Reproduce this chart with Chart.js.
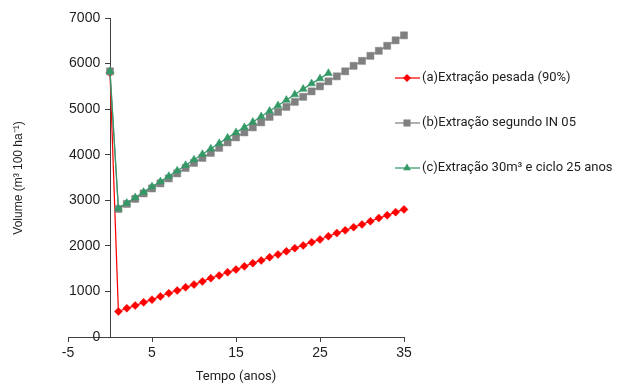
<!DOCTYPE html>
<html>
<head>
<meta charset="utf-8">
<script src="https://cdn.jsdelivr.net/npm/chart.js@4.4.0/dist/chart.umd.min.js"></script>
<style>
  html, body { margin: 0; padding: 0; background: #fff; }
</style>
</head>
<body>
<canvas id="grafico" width="625" height="385"></canvas>
<script>
// Tempo (anos)
const anos = [0, 1, 2, 3, 4, 5, 6, 7, 8, 9, 10, 11, 12, 13, 14, 15, 16, 17,
              18, 19, 20, 21, 22, 23, 24, 25, 26, 27, 28, 29, 30, 31, 32, 33, 34, 35];

// (a) Extração pesada (90%)
const pesada = [5800, 560, 630, 690, 760, 820, 890, 960, 1020, 1090, 1150, 1220, 1290, 1350,
                1420, 1480, 1550, 1620, 1680, 1750, 1810, 1880, 1950, 2010, 2080, 2140,
                2210, 2280, 2340, 2410, 2470, 2540, 2610, 2670, 2740, 2800];

// (b) Extração segundo IN 05
const segundoIN05 = [5830, 2810, 2920, 3030, 3150, 3260, 3370, 3480, 3590, 3710, 3820, 3930,
                     4040, 4150, 4270, 4380, 4490, 4600, 4710, 4830, 4940, 5050, 5160, 5270,
                     5390, 5500, 5610, 5720, 5830, 5950, 6060, 6170, 6280, 6390, 6510, 6620];

// (c) Extração 30m³ e ciclo 25 anos (só até 26 anos)
const ciclo25 = [5830, 2820, 2940, 3060, 3180, 3300, 3410, 3530, 3650, 3770, 3890, 4010, 4130,
                 4250, 4370, 4490, 4600, 4720, 4840, 4960, 5080, 5200, 5320, 5440, 5560, 5670, 5790];

const rotulos = ['(a)Extração pesada (90%)', '(b)Extração segundo IN 05', '(c)Extração 30m³ e ciclo 25 anos'];
const eixoX = { min: -5, max: 35, passo: 10, titulo: 'Tempo (anos)' };
const eixoY = { min: 0, max: 7000, passo: 1000, titulo: 'Volume (m³ 100 ha⁻¹)' };

const corTexto = '#1e1e1e';
const corEixo = '#404040';

function pontos(xs, ys) {
    return ys.map((v, i) => ({ x: xs[i], y: v }));
}

// desenha o marcador da legenda (igual ao do gráfico)
function marcador(ctx, estilo, r, x, y, cor) {
    ctx.save();
    ctx.fillStyle = cor;
    ctx.beginPath();
    if (estilo === 'rectRot') {
        ctx.moveTo(x, y - r); ctx.lineTo(x + r, y); ctx.lineTo(x, y + r); ctx.lineTo(x - r, y);
    } else if (estilo === 'rect') {
        const s = r * Math.SQRT1_2;
        ctx.rect(x - s, y - s, 2 * s, 2 * s);
    } else {
        const a = 2 * Math.PI / 3;
        ctx.moveTo(x, y - r);
        ctx.lineTo(x + Math.sin(a) * r, y - Math.cos(a) * r);
        ctx.lineTo(x + Math.sin(2 * a) * r, y - Math.cos(2 * a) * r);
    }
    ctx.closePath();
    ctx.fill();
    ctx.restore();
}

// legenda à direita + título do eixo Y
const legendaLateral = {
    id: 'legendaLateral',
    afterDraw(chart) {
        const ctx = chart.ctx;
        const ys = [78, 123, 168];
        chart.data.datasets.forEach((ds, i) => {
            const y = ys[i];
            ctx.save();
            ctx.strokeStyle = ds.borderColor;
            ctx.lineWidth = ds.borderWidth;
            ctx.beginPath();
            ctx.moveTo(395, y);
            ctx.lineTo(420, y);
            ctx.stroke();
            ctx.restore();
            marcador(ctx, ds.pointStyle, ds.pointRadius, 407, y, ds.pointBackgroundColor);
            ctx.save();
            ctx.fillStyle = corTexto;
            ctx.font = '13px Roboto';
            ctx.textBaseline = 'middle';
            ctx.fillText(rotulos[i], 422, y);
            ctx.restore();
        });

        ctx.save();
        ctx.translate(19, 178);
        ctx.rotate(-Math.PI / 2);
        ctx.fillStyle = corTexto;
        ctx.font = '12px "Liberation Sans"';
        ctx.textAlign = 'center';
        ctx.textBaseline = 'middle';
        ctx.fillText(eixoY.titulo, 0, 0);
        ctx.restore();
    }
};

new Chart(document.getElementById('grafico'), {
    type: 'line',
    data: {
        datasets: [
            {
                label: rotulos[0],
                data: pontos(anos, pesada),
                borderColor: '#ff0000',
                backgroundColor: '#ff0000',
                pointBackgroundColor: '#ff0000',
                pointBorderColor: '#ff0000',
                pointStyle: 'rectRot',
                pointRadius: 4,
                pointBorderWidth: 0.5,
                borderWidth: 1.25,
                clip: false,
                order: 3
            },
            {
                label: rotulos[1],
                data: pontos(anos, segundoIN05),
                borderColor: '#808080',
                backgroundColor: '#808080',
                pointBackgroundColor: '#808080',
                pointBorderColor: '#808080',
                pointStyle: 'rect',
                pointRadius: 5,
                pointBorderWidth: 0.5,
                borderWidth: 1.25,
                clip: false,
                order: 2
            },
            {
                label: rotulos[2],
                data: pontos(anos, ciclo25),
                borderColor: '#339966',
                backgroundColor: '#339966',
                pointBackgroundColor: '#339966',
                pointBorderColor: '#339966',
                pointStyle: 'triangle',
                pointRadius: 4.5,
                pointBorderWidth: 0.5,
                borderWidth: 1.25,
                clip: false,
                order: 1
            }
        ]
    },
    options: {
        responsive: false,
        animation: false,
        devicePixelRatio: 1,
        layout: { padding: { left: 68, right: 221, top: 18, bottom: 0 } },
        plugins: {
            legend: { display: false },
            tooltip: { enabled: false }
        },
        scales: {
            x: {
                type: 'linear',
                position: 'bottom',
                min: eixoX.min,
                max: eixoX.max,
                grid: { drawOnChartArea: false, drawTicks: true, tickLength: 5, color: corEixo },
                border: { display: true, color: corEixo, width: 1 },
                ticks: {
                    stepSize: eixoX.passo,
                    padding: 3,
                    color: corTexto,
                    font: { family: '"Liberation Sans"', size: 14 }
                },
                title: {
                    display: true,
                    text: eixoX.titulo,
                    color: corTexto,
                    font: { family: 'Roboto', size: 13 },
                    padding: { top: 0, bottom: 0 }
                },
                afterFit(scale) { scale.height = 48; }
            },
            y: {
                type: 'linear',
                position: { x: 0 },
                min: eixoY.min,
                max: eixoY.max,
                grid: { drawOnChartArea: false, drawTicks: true, tickLength: 5, color: corEixo },
                border: { display: true, color: corEixo, width: 1 },
                ticks: {
                    stepSize: eixoY.passo,
                    color: corTexto,
                    font: { family: '"Liberation Sans"', size: 14 },
                    // sem separador de milhar; espaço à direita afasta o rótulo do eixo
                    callback: (v) => String(v) + '\u2002\u2009'
                },
                afterFit(scale) { scale.width = 0; }
            }
        }
    },
    plugins: [legendaLateral]
});
</script>
</body>
</html>
